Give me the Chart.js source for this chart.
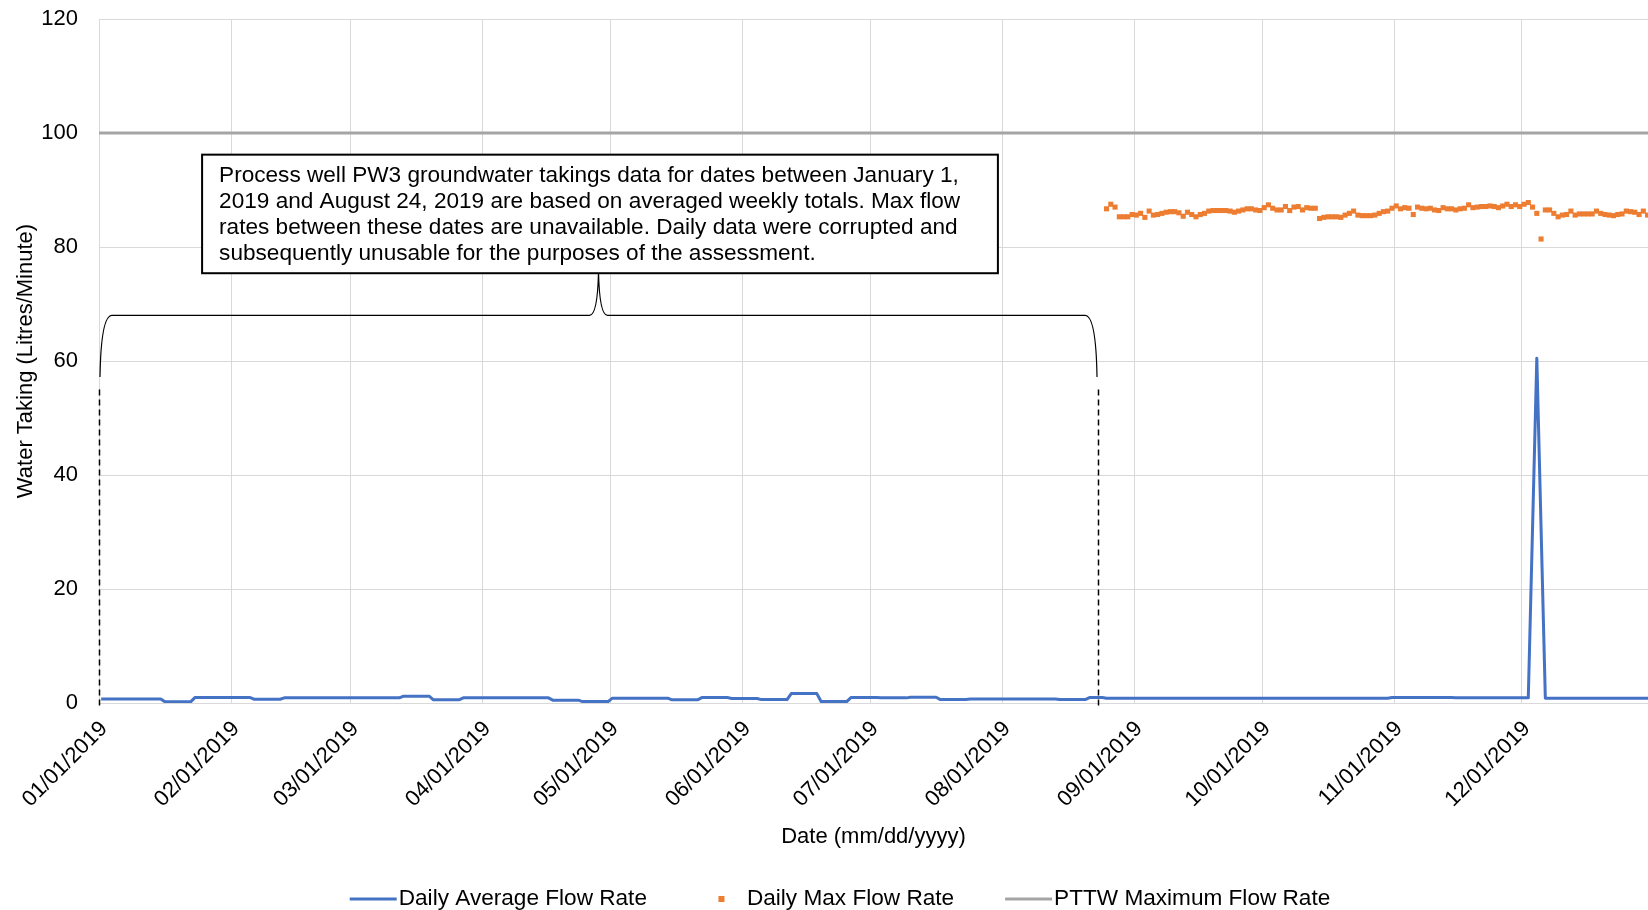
<!DOCTYPE html>
<html>
<head>
<meta charset="utf-8">
<script src="https://cdn.jsdelivr.net/npm/chart.js@4.4.1/dist/chart.umd.min.js"></script>
<style>
  html, body { margin: 0; padding: 0; background: #ffffff; }
  #wrap { width: 1648px; height: 910px; position: relative; }
</style>
</head>
<body>
<div id="wrap"><canvas id="flowChart" width="1648" height="910"></canvas></div>
<script>
// Month-start ticks (day of year, 0 = Jan 1 2019) and their labels
const monthDays = [0, 31, 59, 90, 120, 151, 181, 212, 243, 273, 304, 334];
const monthLabels = ['01/01/2019', '02/01/2019', '03/01/2019', '04/01/2019', '05/01/2019', '06/01/2019',
                     '07/01/2019', '08/01/2019', '09/01/2019', '10/01/2019', '11/01/2019', '12/01/2019'];

// Axis ranges (the visible date range stops part-way through Dec 30)
const yMin = 0, yMax = 120, yStep = 20;
const xMin = 0, xMax = 363.6;

// Each daily value sits in the middle of its day
const dayCentre = 0.5;

// Jan 1 - Aug 24: flows come from averaged weekly totals (first day of each block, average L/min)
const weekStart = [0, 15, 22, 36, 43, 71, 78, 85, 106, 113, 120, 134, 141, 148, 155, 162, 169, 176, 183, 190, 197, 204, 225, 232];
const weekAvg   = [0.7, 0.2, 0.95, 0.65, 0.9, 1.2, 0.55, 0.9, 0.5, 0.25, 0.85, 0.55, 0.95, 0.8, 0.6, 1.65, 0.25, 0.95, 0.9, 1.0, 0.6, 0.7, 0.6, 0.95];
const weeklyLastDay = 235;

// Aug 25 onward: daily average flow, listed where the value changes
const dailyAvgDays = [236, 302, 303, 317, 318, 335, 337, 339, 364];
const dailyAvgVals = [0.85, 0.85, 0.95, 0.95, 0.9, 0.9, 60.5, 0.85, 0.85];

// Aug 25 onward: daily maximum flow (L/min), one value per day
const maxFirstDay = 236;
const dailyMax = [
  86.7, 87.5, 87.0, 85.3, 85.3, 85.3, 85.7, 85.6, 85.9, 85.2,
  86.3, 85.6, 85.7, 85.9, 86.1, 86.2, 86.2, 86.0, 85.4, 86.1,
  85.7, 85.3, 85.7, 85.9, 86.3, 86.4, 86.4, 86.4, 86.4, 86.3,
  86.1, 86.3, 86.5, 86.7, 86.7, 86.5, 86.4, 86.9, 87.4, 86.8,
  86.5, 86.5, 87.1, 86.4, 87.0, 87.1, 86.5, 86.9, 86.8, 86.8,
  85.0, 85.2, 85.3, 85.3, 85.3, 85.2, 85.6, 85.9, 86.3, 85.6,
  85.5, 85.5, 85.5, 85.6, 85.9, 86.2, 86.3, 86.8, 87.2, 86.7,
  86.9, 86.8, 85.7, 87.0, 86.8, 86.7, 86.8, 86.5, 86.4, 86.9,
  86.7, 86.7, 86.5, 86.7, 86.8, 87.4, 86.9, 87.0, 87.1, 87.1,
  87.2, 87.1, 86.9, 87.2, 87.5, 87.1, 87.4, 87.1, 87.5, 87.8,
  87.0, 85.9, 81.4, 86.5, 86.5, 85.9, 85.3, 85.6, 85.7, 86.3,
  85.6, 85.8, 85.8, 85.8, 85.8, 86.3, 85.9, 85.7, 85.6, 85.5,
  85.7, 85.8, 86.3, 86.2, 86.1, 85.7, 86.3, 85.6
];

// Permit to Take Water limit (L/min)
const permitLimit = 100;
const permitDays = [0, 365];

// Period with no usable daily records (day of year)
const gapStartDay = 0;
const gapEndDay = 234.5;

const noteLines = [
  'Process well PW3 groundwater takings data for dates between January 1,',
  '2019 and August 24, 2019 are based on averaged weekly totals. Max flow',
  'rates between these dates are unavailable. Daily data were corrupted and',
  'subsequently unusable for the purposes of the assessment.'
];

// ---- build point lists ----
const avgPoints = [];
weekStart.forEach((s, i) => {
  const e = i + 1 < weekStart.length ? weekStart[i + 1] - 1 : weeklyLastDay;
  avgPoints.push({ x: s + dayCentre, y: weekAvg[i] }, { x: e + dayCentre, y: weekAvg[i] });
});
dailyAvgDays.forEach((d, i) => avgPoints.push({ x: d + dayCentre, y: dailyAvgVals[i] }));

const maxPoints = dailyMax.map((v, i) => ({ x: maxFirstDay + i + dayCentre, y: v }));
const permitPoints = permitDays.map(d => ({ x: d, y: permitLimit }));

const FONT = '"Liberation Sans", Arial, Helvetica, sans-serif';
const TXT = '#000000';
const GRID = '#d9d9d9';

const plotBottom = 703;
const keyReserve = 50;

// Explanatory note, brace and dashed period markers
const notePlugin = {
  id: 'gapNote',
  afterDatasetsDraw(chart) {
    const { ctx, scales: { x, y } } = chart;
    const px = v => x.getPixelForValue(v);
    const py = v => y.getPixelForValue(v);
    ctx.save();

    // dashed markers at both ends of the period
    ctx.strokeStyle = '#000';
    ctx.lineWidth = 1.5;
    ctx.setLineDash([6, 4]);
    [gapStartDay, gapEndDay].forEach(d => {
      const xx = Math.round(px(d)) + 0.5;
      ctx.beginPath();
      ctx.moveTo(xx, py(55));
      ctx.lineTo(xx, py(-0.9));
      ctx.stroke();
    });
    ctx.setLineDash([]);

    // brace
    const x0 = px(gapStartDay) + 1, x1 = px(gapEndDay) - 1;
    const xm = (x0 + x1) / 2;
    const yH = py(68), yTip = py(57.2), yPeak = py(75.6);
    ctx.lineWidth = 1.2;
    ctx.beginPath();
    ctx.moveTo(x0, yTip);
    ctx.quadraticCurveTo(x0 + 1, yH, x0 + 12, yH);
    ctx.lineTo(xm - 9, yH);
    ctx.quadraticCurveTo(xm - 1, yH, xm, yPeak);
    ctx.quadraticCurveTo(xm + 1, yH, xm + 9, yH);
    ctx.lineTo(x1 - 12, yH);
    ctx.quadraticCurveTo(x1 - 1, yH, x1, yTip);
    ctx.stroke();

    // note box
    const bl = px(24.2), br = px(211), bt = py(96.2), bb = py(75.4);
    ctx.fillStyle = '#fff';
    ctx.fillRect(bl, bt, br - bl, bb - bt);
    ctx.lineWidth = 2;
    ctx.strokeStyle = '#000';
    ctx.strokeRect(bl, bt, br - bl, bb - bt);
    ctx.fillStyle = TXT;
    ctx.font = '22.6px ' + FONT;
    ctx.textBaseline = 'middle';
    ctx.textAlign = 'left';
    noteLines.forEach((t, i) => ctx.fillText(t, bl + 17, bt + 21 + i * 26));
    ctx.restore();
  }
};

// Series key along the bottom
const keyPlugin = {
  id: 'seriesKey',
  afterDraw(chart) {
    const ctx = chart.ctx;
    ctx.save();
    ctx.font = '22.6px ' + FONT;
    ctx.textBaseline = 'middle';
    ctx.textAlign = 'left';
    const sw = 47, gapText = 2, gapItem = 51;
    const items = chart.data.datasets.map(ds => ({ ds, w: ctx.measureText(ds.label).width }));
    const total = items.reduce((a, it) => a + sw + gapText + it.w, 0) + gapItem * (items.length - 1);
    let xx = 840 - total / 2;
    const yy = chart.height - 11;
    items.forEach(({ ds, w }) => {
      if (ds.showLine === false) {
        ctx.fillStyle = ds.pointBackgroundColor;
        ctx.fillRect(xx + sw / 2 - 3, yy - 3, 6, 6);
      } else {
        ctx.fillStyle = ds.borderColor;
        ctx.fillRect(xx, yy - 1.5, sw, 3);
      }
      ctx.fillStyle = TXT;
      ctx.fillText(ds.label, xx + sw + gapText, yy);
      xx += sw + gapText + w + gapItem;
    });
    ctx.restore();
  }
};

new Chart(document.getElementById('flowChart'), {
  type: 'line',
  data: {
    datasets: [
      {
        label: 'Daily Average Flow Rate',
        data: avgPoints,
        borderColor: '#4472C4',
        backgroundColor: '#4472C4',
        borderWidth: 3,
        pointRadius: 0,
        tension: 0,
        borderJoinStyle: 'round'
      },
      {
        label: 'Daily Max Flow Rate',
        data: maxPoints,
        showLine: false,
        pointStyle: 'rect',
        pointRadius: 3.6,
        pointBorderWidth: 0,
        pointBackgroundColor: '#ED7D31',
        borderColor: '#ED7D31',
        backgroundColor: '#ED7D31'
      },
      {
        label: 'PTTW Maximum Flow Rate',
        data: permitPoints,
        borderColor: '#A5A5A5',
        backgroundColor: '#A5A5A5',
        borderWidth: 3,
        pointRadius: 0
      }
    ]
  },
  options: {
    responsive: false,
    animation: false,
    devicePixelRatio: 1,
    parsing: false,
    layout: { autoPadding: false, padding: { left: 0, right: 0, top: 19, bottom: keyReserve } },
    scales: {
      x: {
        type: 'linear',
        min: xMin,
        max: xMax,
        afterBuildTicks: s => { s.ticks = monthDays.map(v => ({ value: v })); },
        afterFit: s => {
          s.height = s.chart.height - plotBottom - keyReserve;
          s.paddingLeft = 0; s.paddingRight = 0;
        },
        ticks: {
          autoSkip: false,
          minRotation: 45,
          maxRotation: 45,
          padding: 13,
          labelOffset: 5,
          color: TXT,
          font: { family: FONT, size: 22 },
          callback: (v, i) => monthLabels[i]
        },
        grid: { color: GRID, lineWidth: 1, drawTicks: false },
        border: { color: GRID, width: 1 },
        title: {
          display: true,
          text: 'Date (mm/dd/yyyy)',
          color: TXT,
          font: { family: FONT, size: 22 },
          padding: { top: 0, bottom: 10 }
        }
      },
      y: {
        min: yMin,
        max: yMax,
        afterFit: s => {
          s.width = 99;
          s.paddingTop = 0; s.paddingBottom = 0;
        },
        ticks: {
          stepSize: yStep,
          padding: 21,
          color: TXT,
          font: { family: FONT, size: 22 }
        },
        grid: { color: GRID, lineWidth: 1, drawTicks: false },
        border: { color: GRID, width: 1 },
        title: {
          display: true,
          text: 'Water Taking (Litres/Minute)',
          color: TXT,
          font: { family: FONT, size: 22 },
          padding: { top: 13, bottom: 0 }
        }
      }
    },
    plugins: {
      legend: { display: false },
      tooltip: { enabled: false }
    }
  },
  plugins: [notePlugin, keyPlugin]
});
</script>
</body>
</html>
